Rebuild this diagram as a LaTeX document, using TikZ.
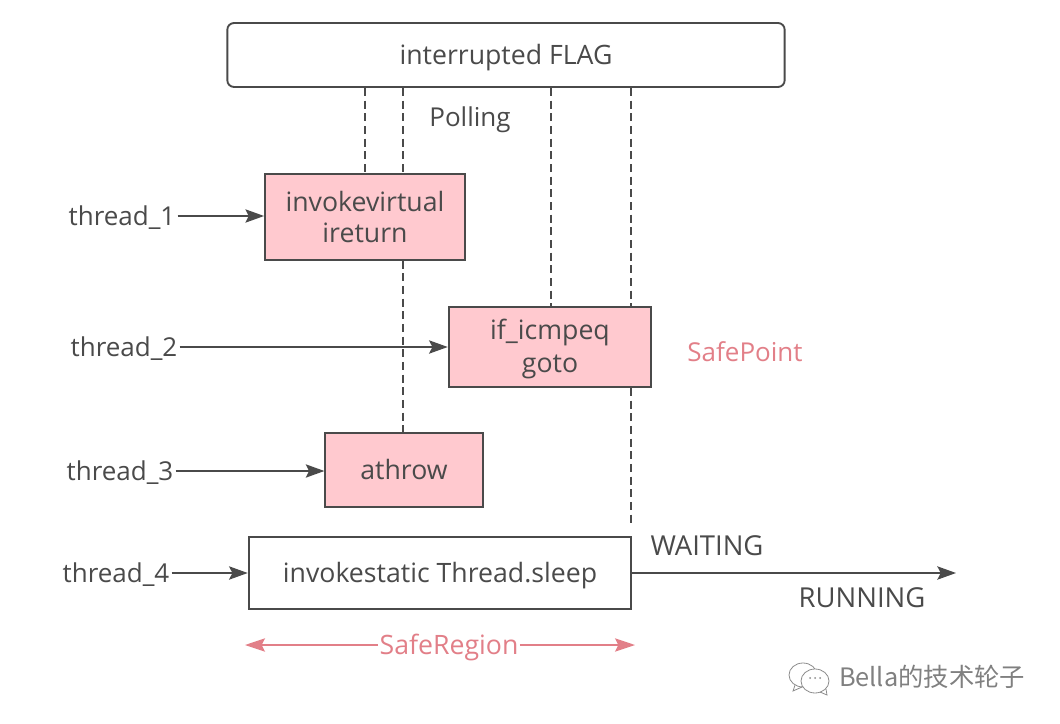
\documentclass[tikz,border=0pt]{standalone}
\usepackage{fontspec}
\setmainfont{Open Sans}
\newfontfamily\cjk{Noto Sans CJK SC}
\usetikzlibrary{calc}
\usetikzlibrary{arrows.meta}

\definecolor{ink}{HTML}{4A4A4A}
\definecolor{blush}{HTML}{FFC9CF}
\definecolor{safe}{HTML}{E27F88}

\tikzset{
    op/.style={draw=ink,line width=1.4pt,text=ink,font=\fontsize{20}{24}\selectfont,align=center,inner sep=0pt,minimum height=#1},
    op/.default=60pt,
    oneline/.style={text height=18.7pt,text depth=4.5pt},
    label/.style={text=ink,font=\fontsize{19.5}{24}\selectfont,inner sep=0pt,oneline},
    caps/.style={font=\fontsize{20.6}{24}\selectfont},
    poll/.style={draw=ink,line width=1pt,dash pattern=on 6pt off 3.5pt},
    flow/.style={draw=ink,line width=1pt,-{Stealth[length=14pt,width=10pt,inset=2.5pt]}},
    region/.style={draw=safe,line width=1.2pt,-{Stealth[length=15pt,width=10pt,inset=2.5pt]}},
}

\begin{document}
\begin{tikzpicture}[x=0.75pt,y=-0.75pt]
            \useasboundingbox (0,0) rectangle (1060,724);

            \node[op=48pt,oneline,rounded corners=5pt,minimum width=418pt] (flag) at (506,55) {interrupted FLAG};
            \node[op=64pt,fill=blush,minimum width=150pt] (virtual) at (365,217) {invokevirtual\\[-0.5pt]ireturn};
            \node[op=60pt,fill=blush,minimum width=152pt] (icmp) at (550,347) {\rule{0pt}{18pt}if\_icmpeq\\[0.3pt]goto};
            \node[op=55pt,oneline,fill=blush,minimum width=118pt] (athrow) at (404,470) {athrow};
            \node[op=54pt,oneline,minimum width=287pt] (sleep) at (440,573) {invokestatic Thread.sleep};

            \node[label] (t1) at (122,216) {thread\_1};
            \node[label] (t2) at (124,347) {thread\_2};
            \node[label] (t3) at (120,471) {thread\_3};
            \node[label] (t4) at (116,573) {thread\_4};

            \node[label] (polling) at (470,117) {Polling};
            \node[label,text=safe] (safepoint) at (745,352) {SafePoint};
            \node[label,caps] (waiting) at (707,546) {WAITING};
            \node[label,caps] (running) at (862,598) {RUNNING};
            \node[label,text=safe,fill=white,inner xsep=1pt,font=\fontsize{20}{24}\selectfont] (saferegion) at (449,645) {SafeRegion};

            \coordinate (p1) at (365,88);
            \coordinate (p2) at (403,88);
            \coordinate (p3) at (551,88);
            \coordinate (p4) at (631,88);
            \coordinate (wait) at (631,526);
            \coordinate (out) at (956,573);
            \coordinate (left) at (245,645);
            \coordinate (right) at (635,645);

            % polling lines
            \draw[poll] (p1) -- (p1 |- virtual.north);
            \draw[poll] (p2) -- (p2 |- virtual.north);
            \draw[poll] (p2 |- virtual.south) -- (p2 |- athrow.north);
            \draw[poll] (p3) -- (p3 |- icmp.north);
            \draw[poll] (p4) -- (p4 |- icmp.north);
            \draw[poll] (p4 |- icmp.south) -- (wait);

            \draw[flow] (t1.east) ++(2,0) -- (t1.east -| virtual.west);
            \draw[flow] (t2.east) ++(2,0) -- (t2.east -| icmp.west);
            \draw[flow] (t3.east) ++(2,0) -- (t3.east -| athrow.west);
            \draw[flow] (t4.east) ++(2,0) -- (t4.east -| sleep.west);
            \draw[flow] (sleep) -- (out);

            \draw[region] (saferegion) -- (left);
            \draw[region] (saferegion) -- (right);

            % mark in the corner
            \node[text=black!50,font=\fontsize{19}{22}\cjk,inner sep=0pt] (mark) at (932,677) {Bella的技术轮子};
            \draw[black!45,line width=0.6pt,fill=white] (803,675) ellipse (14 and 12);
            \draw[black!45,line width=0.6pt,fill=white] (815,681) ellipse (14 and 12);
            \draw[black!45,line width=0.6pt] (795,685) -- (793,691) -- (802,687);
            \draw[black!45,line width=0.6pt] (820,692) -- (827,695) -- (826,689);
            \fill[black!45] (810,678) circle (1) (815,678) circle (1) (820,678) circle (1);

        \end{tikzpicture}
\end{document}
